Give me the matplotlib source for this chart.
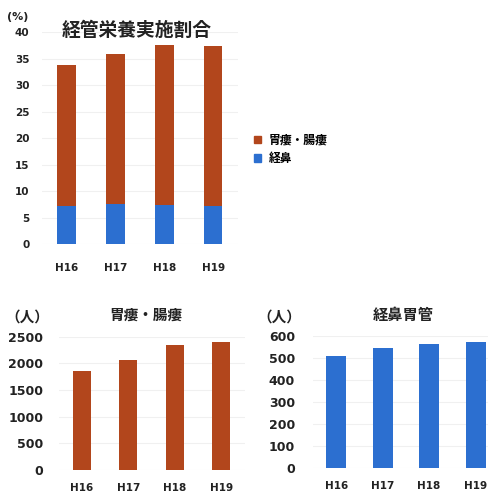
import matplotlib
matplotlib.use('Agg')
import matplotlib.pyplot as plt
from matplotlib.patches import Patch

plt.rcParams['font.family'] = ['Noto Sans CJK JP', 'DejaVu Sans']
plt.rcParams['font.weight'] = 'bold'

years = ['H16', 'H17', 'H18', 'H19']
# 経管栄養実施割合 (%)
nasal_pct = [7.2, 7.5, 7.3, 7.1]
total_pct = [33.8, 35.8, 37.6, 37.3]
gastro_pct = [t - n for t, n in zip(total_pct, nasal_pct)]
# 人数
gastro_people = [1860, 2070, 2340, 2400]
nasal_people = [508, 545, 563, 572]

brown = '#B2461C'
blue = '#2C6FD0'
txt = '#222222'
grid = '#F0F0F0'
num_font = ['DejaVu Sans']

fig = plt.figure(figsize=(4.89, 4.95), dpi=100)

def style(ax, ticks, ysize, ypad, xpad):
    for s in ax.spines.values():
        s.set_visible(False)
    ax.set_yticks(ticks)
    ax.set_xlim(-0.5, 3.5)
    ax.tick_params(length=0, colors=txt)
    ax.tick_params(axis='y', pad=ypad)
    ax.tick_params(axis='x', pad=xpad)
    ax.yaxis.grid(True, color=grid, linewidth=0.8)
    ax.set_axisbelow(True)
    for lab in ax.get_yticklabels():
        lab.set_fontweight('bold')
        lab.set_family(num_font)
        lab.set_fontsize(ysize)
    for lab in ax.get_xticklabels():
        lab.set_fontweight('bold')
        lab.set_family(num_font)
        lab.set_fontsize(7.5)

x = list(range(len(years)))

# top chart
ax1 = fig.add_axes([0.086, 0.507, 0.40, 0.428])
ax1.bar(x, nasal_pct, width=0.38, color=blue)
ax1.bar(x, gastro_pct, width=0.38, bottom=nasal_pct, color=brown)
ax1.set_ylim(0, 40)
ax1.set_xticks(x)
ax1.set_xticklabels(years)
style(ax1, range(0, 41, 5), 7.5, 9, 14)
fig.text(0.127, 0.938, '経管栄養実施割合', fontsize=13.5, fontweight='bold', color=txt, ha='left', va='center')
fig.text(0.014, 0.965, '(%)', fontsize=8, fontweight='bold', color=txt, ha='left', va='center',
         family=num_font)
handles = [Patch(color=brown), Patch(color=blue)]
fig.legend(handles, ['胃瘻・腸瘻', '経鼻'], loc='center left', bbox_to_anchor=(0.498, 0.698),
           frameon=False, handlelength=0.6, handleheight=0.6,
           handletextpad=0.6, labelspacing=0.45, prop={'weight': 'bold', 'size': 8.5})

# bottom-left
ax2 = fig.add_axes([0.12, 0.0505, 0.38, 0.269])
ax2.bar(x, gastro_people, width=0.39, color=brown)
ax2.set_ylim(0, 2500)
ax2.set_xticks(x)
ax2.set_xticklabels(years)
style(ax2, range(0, 2501, 500), 9, 11, 9)
fig.text(0.299, 0.364, '胃瘻・腸瘻', fontsize=10.5, fontweight='bold', color=txt, ha='center', va='center')
fig.text(0.056, 0.36, '（人）', fontsize=10.5, fontweight='bold', color=txt, ha='center', va='center')

# bottom-right
ax3 = fig.add_axes([0.64, 0.054, 0.38, 0.267])
ax3.bar(x, nasal_people, width=0.43, color=blue)
ax3.set_ylim(0, 600)
ax3.set_xticks(x)
ax3.set_xticklabels(years)
style(ax3, range(0, 601, 100), 9, 13, 9)
fig.text(0.824, 0.364, '経鼻胃管', fontsize=11, fontweight='bold', color=txt, ha='center', va='center')
fig.text(0.571, 0.36, '（人）', fontsize=10.5, fontweight='bold', color=txt, ha='center', va='center')

fig.savefig('out.png', dpi=100)
